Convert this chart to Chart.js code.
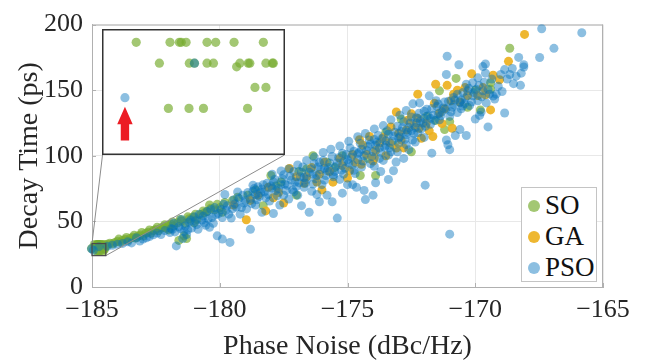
<!DOCTYPE html>
<html>
<head>
<meta charset="utf-8">
<script src="https://cdn.jsdelivr.net/npm/chart.js@4.4.0/dist/chart.umd.min.js"></script>
<style>
  body { margin: 0; background: #fff; }
  #wrap { position: relative; width: 645px; height: 364px; }
  #main { position: absolute; left: 0; top: 0; }
  #inset { position: absolute; left: 102px; top: 29px; background: #fff; }
  #legend {
    position: absolute; left: 521px; top: 187px; width: 76px; height: 95px;
    box-sizing: border-box; padding-top: 2px;
    border: 1px solid #c4c4c4; background: #fff;
    font-family: "Liberation Serif", serif; font-size: 27px; color: #111;
  }
  .item { display: flex; align-items: center; height: 31px; }
  .dot { width: 12px; height: 12px; border-radius: 50%; margin: 0 5px 0 6px; }
</style>
</head>
<body>
<div id="wrap">
  <canvas id="main" width="645" height="364"></canvas>
  <canvas id="inset" width="183" height="126"></canvas>
  <div id="legend"></div>
</div>
<script>
// axis ticks
const xTicks = [-185, -180, -175, -170, -165];
const yTicks = [0, 50, 100, 150, 200];

const seriesNames = ['SO', 'GA', 'PSO'];
const seriesColors = ['rgba(119,172,48,0.68)', 'rgba(237,177,32,0.92)', 'rgba(0,114,189,0.45)'];

// zoomed region (data units) and the red arrow inside it
const zoomX = [-185, -184.46];
const zoomY = [23.9, 33.1];
const arrowTip = [-184.943, 27.33];
const arrowHeadY = 25.96;
const arrowTailY = 24.68;
const arrowHeadHalf = 0.024;
const arrowShaftHalf = 0.013;

// [phase noise, decay time]
const soPoints = [
  [-184.908,32.41],[-184.803,32.41],[-184.774,32.41],[-184.768,32.41],[-184.753,32.41],[-184.688,32.41],[-184.661,32.41],[-184.604,32.41],[-184.513,32.41],
  [-184.836,30.77],[-184.743,30.77],[-184.727,30.77],[-184.688,30.77],[-184.668,30.77],[-184.596,30.48],[-184.586,30.77],[-184.560,30.77],[-184.555,30.77],[-184.505,30.77],[-184.485,30.77],[-184.482,30.77],
  [-184.539,28.86],[-184.505,28.86],
  [-184.808,27.21],[-184.744,27.21],[-184.699,27.21],[-184.562,27.21],
  [-185.02,29.3],
  [-184.4,32.6],[-184.3,33.4],[-184.2,32.9],[-184.1,34.0],[-184.0,34.8],[-183.9,34.2],[-183.8,35.6],[-183.7,36.3],[-183.6,35.7],[-183.5,37.2],
  [-183.4,38.0],[-183.3,37.3],[-183.2,38.9],[-183.1,39.7],[-183.0,38.9],[-182.9,41.0],[-182.8,41.8],[-182.7,40.9],[-182.6,43.0],[-182.5,43.9],
  [-182.4,42.9],[-182.3,45.0],[-182.2,45.9],[-182.1,44.9],[-182.0,47.0],[-181.9,47.8],[-181.8,46.5],[-181.65,49.0],[-181.5,50.3],[-181.35,48.5],
  [-181.2,52.0],[-181.05,53.4],[-180.9,51.5],[-180.75,55.2],[-180.6,56.5],[-180.5,57.5],[-180.4,62.5],[-180.2,58.8],[-180.0,60.5],
  [-183.95,36.5],[-183.65,37.8],[-183.35,39.5],[-183.05,41.5],[-182.75,43.5],[-182.45,45.5],[-182.15,47.5],[-182.0,43.5],[-181.85,49.5],[-181.55,51.5],
  [-181.25,53.5],[-181.0,49.0],[-180.95,55.5],[-180.65,58.0],[-180.35,60.0],[-180.1,63.0],[-179.9,57.0],[-179.8,64.5],[-179.3,68.5],
  [-181.6,35.5],[-181.4,39.0],[-181.3,37.0],
  [-179.5,66.0],[-178.9,70.0],[-178.6,74.0],[-178.3,62.0],[-178.0,85.0],[-177.8,77.0],[-177.6,80.0],[-177.0,70.0],[-176.9,88.0],[-176.6,90.0],
  [-176.35,100.0],[-175.8,95.0],[-175.5,91.0],[-175.2,100.0],[-174.5,85.0],[-174.2,98.0],[-173.9,85.0],[-173.5,118.0],[-173.2,108.0],[-172.9,128.0],
  [-172.5,103.0],[-171.9,130.0],[-171.55,127.0],[-171.2,120.0],[-171.0,126.0],[-171.4,149.5],[-170.75,159.0],[-170.3,137.0],[-170.0,150.0],[-169.8,135.0],
  [-169.4,155.7],[-169.4,150.7],[-168.65,182.0]
];

const gaPoints = [
  [-179.46,62.5],[-178.96,51.3],[-178.8,66.0],[-178.5,70.0],[-178.2,58.0],[-178.1,76.0],[-177.9,68.0],[-177.7,72.0],[-177.5,64.0],[-177.27,90.3],
  [-177.0,84.0],[-176.7,79.0],[-176.6,84.0],[-176.4,91.0],[-176.2,80.0],[-176.1,86.0],[-176.0,74.0],[-175.9,95.0],[-175.7,88.0],[-175.57,79.9],
  [-175.3,98.0],[-175.2,92.5],[-175.0,83.0],[-174.92,88.6],[-174.8,101.0],[-174.7,95.0],[-174.53,112.2],[-174.46,93.5],[-174.4,108.0],[-174.26,101.0],
  [-174.14,114.7],[-174.0,96.0],[-173.95,98.5],[-173.9,104.0],[-173.74,109.7],[-173.6,114.0],[-173.5,100.0],[-173.35,110.0],[-173.3,122.0],[-173.09,105.97],
  [-173.09,133.4],[-173.0,117.0],[-172.9,112.0],[-172.8,106.0],[-172.7,119.6],[-172.64,127.1],[-172.5,132.0],[-172.4,123.0],[-172.25,128.4],[-172.25,147.0],
  [-172.2,121.0],[-172.11,113.4],[-171.92,124.6],[-171.8,119.0],[-171.66,114.7],[-171.6,140.0],[-171.55,154.5],[-171.4,132.6],[-171.3,124.5],[-171.2,135.8],
  [-171.1,153.7],[-170.95,142.0],[-170.9,121.0],[-170.85,147.0],[-170.7,150.0],[-170.6,141.0],[-170.4,152.0],[-170.3,146.0],[-170.14,162.5],[-169.9,146.0],
  [-169.7,152.0],[-169.6,146.5],[-169.4,135.0],[-169.3,161.4],[-169.05,158.0],[-168.7,172.0],[-168.07,192.5]
];

const psoPoints = [
  [-185.02,29.1],[-184.943,28.05],[-184.727,30.77],
  [-184.4,31.0],[-184.2,31.8],[-184.0,32.6],[-183.8,33.2],[-183.6,34.4],[-183.45,33.6],[-183.26,37.5],[-183.13,35.0],[-183.0,36.5],[-182.87,37.5],
  [-182.75,38.5],[-182.6,39.8],[-182.45,41.2],[-182.3,40.0],[-182.15,43.0],
  [-181.95,41.5],[-181.9,44.5],[-181.85,44.0],[-181.8,48.5],[-181.75,42.0],[-181.7,31.3],[-181.6,46.0],[-181.55,44.5],[-181.5,51.5],[-181.45,37.0],
  [-181.4,42.5],[-181.35,46.5],[-181.3,40.0],[-181.25,43.5],[-181.2,49.5],[-181.15,51.0],[-181.1,45.0],[-181.0,53.5],[-180.95,50.5],[-180.9,47.5],
  [-180.85,44.0],[-180.8,55.5],[-180.7,51.0],[-180.65,54.0],[-180.6,49.0],[-180.55,47.0],[-180.5,57.5],[-180.45,52.0],[-180.4,45.5],[-180.35,59.0],
  [-180.3,53.0],[-180.25,48.5],[-180.2,60.5],[-180.15,55.0],[-180.1,39.0],[-180.05,56.0],
  [-179.95,59.0],[-179.9,36.5],[-179.9,53.0],[-179.85,63.0],[-179.8,70.5],[-179.75,58.5],[-179.7,62.0],[-179.65,55.5],[-179.6,34.0],[-179.55,52.5],
  [-179.5,59.5],[-179.45,66.5],[-179.4,63.5],[-179.35,61.0],[-179.3,72.5],[-179.25,67.5],[-179.2,55.5],[-179.15,60.5],[-179.1,70.0],[-179.05,64.0],
  [-179.0,66.0],[-178.95,59.5],[-178.9,72.0],[-178.8,44.0],[-178.8,67.5],[-178.75,63.5],[-178.7,73.0],[-178.7,77.6],[-178.65,75.0],[-178.6,62.5],
  [-178.6,70.5],[-178.55,66.5],[-178.5,76.5],[-178.45,69.0],[-178.4,72.0],[-178.35,57.0],[-178.35,74.6],[-178.3,78.0],[-178.25,72.5],[-178.2,68.0],
  [-178.15,79.0],[-178.1,70.5],[-178.05,65.5],[-178.0,77.0],
  [-177.95,75.5],[-177.95,86.0],[-177.9,80.0],[-177.9,56.0],[-177.85,82.0],[-177.8,73.5],[-177.75,69.5],[-177.7,75.0],[-177.65,62.5],[-177.6,78.0],
  [-177.6,88.5],[-177.55,82.5],[-177.5,85.5],[-177.5,70.0],[-177.45,78.5],[-177.4,73.5],[-177.35,77.5],[-177.3,67.0],[-177.3,90.0],[-177.25,84.5],
  [-177.2,81.5],[-177.15,74.0],[-177.1,88.0],[-177.1,72.5],[-177.05,80.0],[-177.0,76.5],[-176.95,70.0],[-176.95,93.0],[-176.9,79.5],[-176.85,84.0],
  [-176.8,87.5],[-176.8,62.0],[-176.75,91.5],[-176.7,83.5],[-176.7,76.0],[-176.65,79.0],[-176.6,82.0],[-176.6,96.5],[-176.5,57.0],[-176.5,87.5],
  [-176.45,90.0],[-176.4,73.0],[-176.35,86.0],[-176.35,78.5],[-176.3,94.0],[-176.3,99.0],[-176.25,82.5],[-176.2,85.0],[-176.2,70.5],[-176.15,91.5],
  [-176.1,65.0],[-176.1,95.0],[-176.05,89.5],[-176.0,78.0],
  [-175.95,96.5],[-175.95,102.5],[-175.9,90.5],[-175.9,81.5],[-175.85,85.0],[-175.8,88.5],[-175.8,70.0],[-175.75,91.0],[-175.7,94.5],[-175.65,105.0],
  [-175.6,65.0],[-175.6,99.5],[-175.55,85.5],[-175.55,84.0],[-175.5,88.0],[-175.45,92.0],[-175.4,52.5],[-175.4,94.5],[-175.35,98.5],[-175.3,82.0],
  [-175.3,107.5],[-175.25,89.0],[-175.2,102.0],[-175.2,71.5],[-175.15,95.5],[-175.15,86.0],[-175.1,90.5],[-175.05,101.0],[-175.0,78.0],[-175.0,97.0],
  [-174.95,94.5],[-174.95,111.0],[-174.9,106.0],[-174.85,99.0],[-174.8,93.0],[-174.8,78.0],[-174.75,103.5],[-174.75,89.0],[-174.7,86.5],[-174.65,76.0],
  [-174.6,101.5],[-174.6,97.0],[-174.6,114.5],[-174.55,102.5],[-174.5,109.5],[-174.45,105.0],[-174.45,91.5],[-174.4,96.0],[-174.35,73.6],[-174.35,100.0],
  [-174.3,66.6],[-174.3,117.0],[-174.25,104.0],[-174.2,107.0],[-174.15,112.0],[-174.1,109.0],[-174.1,94.0],[-174.05,99.5],[-174.0,70.0],[-174.0,103.0],
  [-173.95,92.0],[-173.95,112.5],[-173.95,120.5],[-173.9,108.0],[-173.9,79.5],[-173.85,110.5],[-173.8,115.5],[-173.75,106.0],[-173.75,98.0],[-173.7,102.5],
  [-173.7,88.0],[-173.65,113.0],[-173.6,96.5],[-173.6,123.0],[-173.55,106.5],[-173.5,111.5],[-173.5,108.0],[-173.45,119.0],[-173.4,82.0],[-173.4,116.5],
  [-173.4,100.5],[-173.35,106.0],[-173.3,103.0],[-173.3,127.5],[-173.25,111.0],[-173.2,88.6],[-173.2,115.0],[-173.15,118.0],[-173.1,95.3],[-173.05,122.5],
  [-173.05,103.0],[-173.0,109.5],[-173.0,113.5],
  [-172.95,114.5],[-172.95,131.0],[-172.9,118.5],[-172.85,121.5],[-172.8,126.0],[-172.8,98.0],[-172.75,112.5],[-172.7,116.0],[-172.7,134.5],[-172.7,108.5],
  [-172.65,118.0],[-172.6,104.7],[-172.6,121.5],[-172.55,125.0],[-172.5,129.5],[-172.5,119.0],[-172.45,112.0],[-172.44,139.6],[-172.4,117.0],[-172.35,121.5],
  [-172.35,110.5],[-172.3,125.0],[-172.3,129.0],[-172.25,117.5],[-172.2,132.5],[-172.18,140.3],[-172.15,126.5],[-172.1,120.5],[-172.05,125.0],[-172.0,128.5],
  [-172.0,134.0],[-172.0,114.0],
  [-171.96,77.6],[-171.95,122.5],[-171.9,135.5],[-171.85,130.5],[-171.8,145.7],[-171.75,124.0],[-171.75,128.5],[-171.7,136.0],[-171.7,102.0],[-171.65,131.0],
  [-171.6,127.0],[-171.53,142.0],[-171.5,137.5],[-171.45,132.0],[-171.45,139.5],[-171.4,127.5],[-171.35,130.5],[-171.3,133.5],[-171.25,136.5],[-171.2,141.0],
  [-171.15,135.5],[-171.13,112.0],[-171.13,162.0],[-171.1,175.9],[-171.07,108.4],[-171.05,141.5],[-171.0,104.7],[-171.0,40.3],[-171.0,130.0],[-170.95,133.5],
  [-170.9,137.0],[-170.85,139.0],[-170.85,144.5],[-170.8,142.5],[-170.78,115.5],[-170.7,133.0],[-170.7,147.0],[-170.64,169.4],[-170.6,140.5],[-170.6,120.0],
  [-170.55,135.8],[-170.55,142.5],[-170.5,138.0],[-170.48,148.3],[-170.42,139.8],[-170.4,144.0],[-170.35,115.5],[-170.35,154.5],[-170.29,149.5],[-170.25,151.5],
  [-170.22,138.3],[-170.15,141.0],[-170.1,155.7],[-170.09,145.7],[-170.05,148.0],[-170.0,128.0],
  [-169.96,150.7],[-169.9,142.0],[-169.9,159.4],[-169.85,153.5],[-169.83,130.8],[-169.77,133.4],[-169.75,145.0],[-169.7,149.5],[-169.7,168.0],[-169.65,156.0],
  [-169.6,170.0],[-169.6,163.0],[-169.57,140.3],[-169.5,150.5],[-169.5,122.0],[-169.44,147.0],[-169.35,158.5],[-169.3,145.5],[-169.24,143.3],[-169.18,147.0],
  [-169.1,153.0],[-169.0,162.0],[-168.95,149.0],[-168.85,165.7],[-168.85,132.6],[-168.75,158.5],[-168.65,162.0],[-168.55,166.5],[-168.5,155.0],[-168.4,160.7],
  [-168.3,175.0],[-168.23,153.7],[-168.2,163.0],[-168.1,169.4],[-168.1,167.7],[-167.48,174.9],[-167.4,196.8],[-166.92,181.9],[-165.83,193.8]
];

const allSeries = [soPoints, gaPoints, psoPoints];

Chart.defaults.font.family = '"Liberation Serif", serif';
Chart.defaults.color = '#262626';

const toXY = pts => pts.map(([x, y]) => ({ x, y }));
const fmt = v => (v < 0 ? '\u2212' : '') + Math.abs(v);

// PSO on top -> smallest order
const makeDatasets = (radius, clip) => seriesNames.map((name, i) => ({
  label: name,
  data: toXY(allSeries[i]),
  backgroundColor: seriesColors[i],
  borderWidth: 0,
  pointRadius: radius,
  pointHoverRadius: radius,
  order: 3 - i,
  clip: clip
}));

// box, inward ticks, zoom rectangle and connector lines
const framePlugin = {
  id: 'frame',
  beforeDatasetsDraw(chart) {
    const { ctx, chartArea: a, scales: { x, y } } = chart;
    ctx.save();
    ctx.strokeStyle = '#b0b0b0';
    ctx.lineWidth = 1;
    ctx.beginPath();
    ctx.moveTo(a.left, a.top + 0.5); ctx.lineTo(a.right, a.top + 0.5);
    ctx.moveTo(a.right - 0.5, a.top); ctx.lineTo(a.right - 0.5, a.bottom);
    xTicks.forEach(v => {
      const px = Math.round(x.getPixelForValue(v)) + 0.5;
      ctx.moveTo(px, a.bottom); ctx.lineTo(px, a.bottom - 4);
    });
    yTicks.forEach(v => {
      const py = Math.round(y.getPixelForValue(v)) + 0.5;
      ctx.moveTo(a.left, py); ctx.lineTo(a.left + 4, py);
    });
    ctx.stroke();
    ctx.restore();
  },
  afterDraw(chart) {
    const { ctx, scales: { x, y } } = chart;
    const inset = document.getElementById('inset');
    const l = x.getPixelForValue(zoomX[0]), r = x.getPixelForValue(zoomX[1]);
    const t = y.getPixelForValue(zoomY[1]), b = y.getPixelForValue(zoomY[0]);
    const il = inset.offsetLeft, ir = il + inset.offsetWidth;
    const ib = inset.offsetTop + inset.offsetHeight;
    ctx.save();
    ctx.strokeStyle = '#8c8c8c';
    ctx.lineWidth = 1;
    ctx.beginPath();
    ctx.moveTo(l, t); ctx.lineTo(il + 0.5, ib);
    ctx.moveTo(r, b); ctx.lineTo(ir - 0.5, ib);
    ctx.stroke();
    ctx.strokeStyle = '#4a4a4a';
    ctx.lineWidth = 1.2;
    ctx.strokeRect(l, t, r - l, b - t);
    ctx.restore();
  }
};

new Chart(document.getElementById('main'), {
  type: 'scatter',
  data: { datasets: makeDatasets(4.5, 6) },
  options: {
    responsive: false,
    animation: false,
    devicePixelRatio: 1,
    layout: { padding: { top: 19, right: 42, left: 0, bottom: 0 } },
    plugins: { legend: { display: false }, tooltip: { enabled: false } },
    scales: {
      x: {
        type: 'linear', min: -185, max: -165,
        afterBuildTicks: s => { s.ticks = xTicks.map(v => ({ value: v })); },
        afterFit: s => { s.height = 77; },
        ticks: { font: { size: 26 }, padding: 8, maxRotation: 0, callback: fmt, color: '#262626' },
        grid: { color: '#e8e8e8', drawTicks: false },
        border: { color: '#b0b0b0' },
        title: { display: true, text: 'Phase Noise (dBc/Hz)', font: { size: 28 }, padding: { top: 0, bottom: 1 }, color: '#262626' }
      },
      y: {
        type: 'linear', min: 0, max: 200,
        afterBuildTicks: s => { s.ticks = yTicks.map(v => ({ value: v })); },
        afterFit: s => { s.width = 92; },
        ticks: { font: { size: 26 }, padding: 9, callback: fmt, color: '#262626' },
        grid: { color: '#e8e8e8', drawTicks: false },
        border: { color: '#b0b0b0' },
        title: { display: true, text: 'Decay Time (ps)', font: { size: 28 }, padding: { top: 13, bottom: 0 }, color: '#262626' }
      }
    }
  },
  plugins: [framePlugin]
});

// inset: frame and red arrow
const insetPlugin = {
  id: 'insetDeco',
  afterDatasetsDraw(chart) {
    const { ctx, scales: { x, y } } = chart;
    const px = v => x.getPixelForValue(v), py = v => y.getPixelForValue(v);
    const cx = arrowTip[0];
    ctx.save();
    ctx.fillStyle = '#ec1c24';
    ctx.beginPath();
    ctx.moveTo(px(cx), py(arrowTip[1]));
    ctx.lineTo(px(cx + arrowHeadHalf), py(arrowHeadY));
    ctx.lineTo(px(cx + arrowShaftHalf), py(arrowHeadY));
    ctx.lineTo(px(cx + arrowShaftHalf), py(arrowTailY));
    ctx.lineTo(px(cx - arrowShaftHalf), py(arrowTailY));
    ctx.lineTo(px(cx - arrowShaftHalf), py(arrowHeadY));
    ctx.lineTo(px(cx - arrowHeadHalf), py(arrowHeadY));
    ctx.closePath();
    ctx.fill();
    ctx.restore();
  },
  afterDraw(chart) {
    const { ctx, width, height } = chart;
    ctx.save();
    ctx.strokeStyle = '#333';
    ctx.lineWidth = 1.5;
    ctx.strokeRect(0.75, 0.75, width - 1.5, height - 1.5);
    ctx.restore();
  }
};

new Chart(document.getElementById('inset'), {
  type: 'scatter',
  data: { datasets: makeDatasets(4.6, 0) },
  options: {
    responsive: false,
    animation: false,
    devicePixelRatio: 1,
    layout: { padding: 0 },
    plugins: { legend: { display: false }, tooltip: { enabled: false } },
    scales: {
      x: { type: 'linear', display: false, min: zoomX[0], max: zoomX[1] },
      y: { type: 'linear', display: false, min: zoomY[0], max: zoomY[1] }
    }
  },
  plugins: [insetPlugin]
});

// legend
const legend = document.getElementById('legend');
seriesNames.forEach((name, i) => {
  const row = document.createElement('div');
  row.className = 'item';
  row.innerHTML = `<span class="dot" style="background:${seriesColors[i]}"></span><span>${name}</span>`;
  legend.appendChild(row);
});
</script>
</body>
</html>
